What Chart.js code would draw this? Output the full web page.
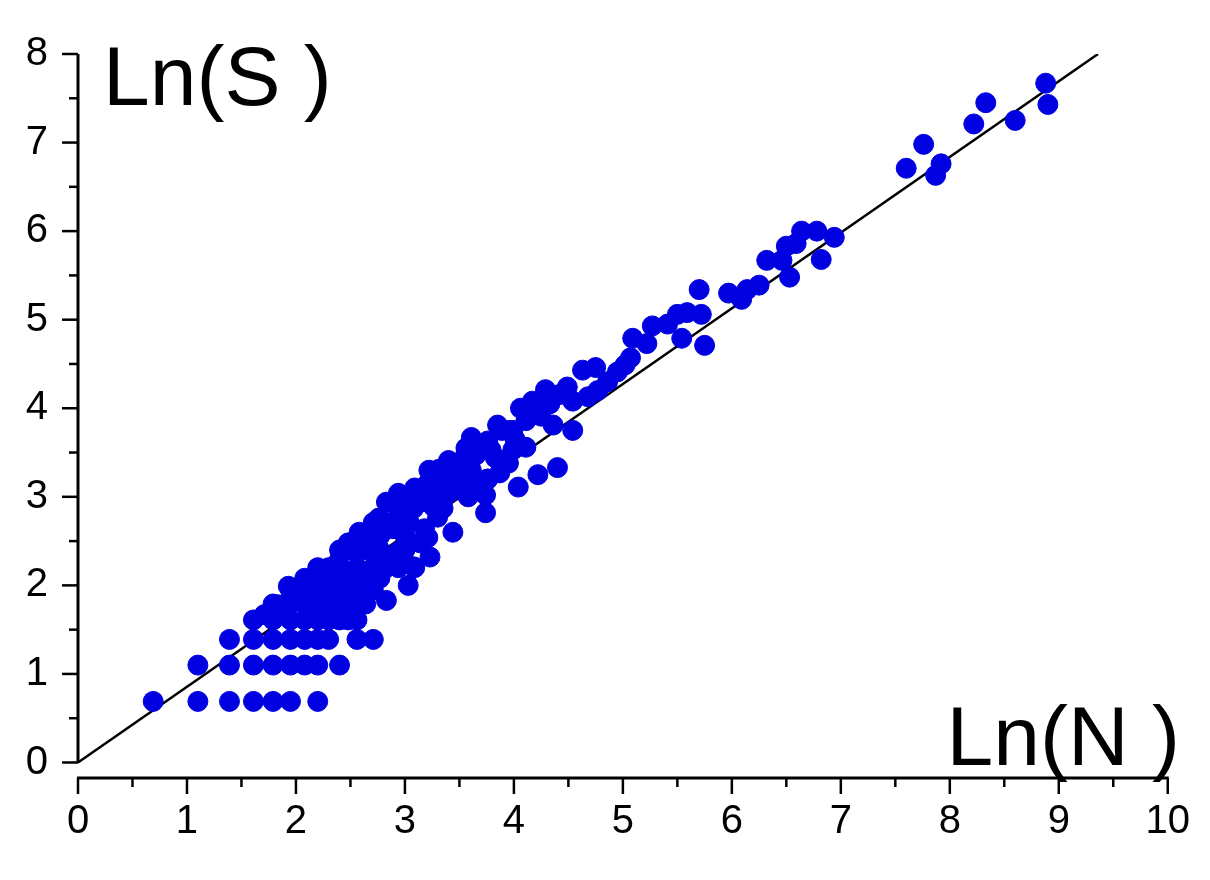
<!DOCTYPE html>
<html><head><meta charset="utf-8">
<script src="https://cdn.jsdelivr.net/npm/chart.js@4"></script>
<style>html,body{margin:0;padding:0;background:#fff}#wrap{width:1210px;height:880px}</style>
</head><body><div id="wrap"><canvas id="c" width="1210" height="880"></canvas></div>
<script>
const xTicks=[0,1,2,3,4,5,6,7,8,9,10];
const yTicks=[0,1,2,3,4,5,6,7,8];
const fitX=[0,9.36];
const fitY=[0,8];
const pointsX=[
0.69,1.10,1.39,1.61,1.79,1.95,2.20,
1.10,1.39,1.61,1.79,1.95,2.08,2.20,2.40,
1.39,1.61,1.79,1.95,2.08,2.20,2.30,2.56,2.71,
1.61,1.79,1.95,2.08,2.20,2.30,2.40,2.48,2.56,
1.79,1.95,2.08,2.20,2.30,2.40,2.48,2.64,
1.95,2.08,2.20,2.30,2.40,2.56,2.71,
2.08,2.20,2.30,2.40,2.48,2.64,2.77,
2.20,2.30,2.40,2.56,2.71,2.83,2.94,
2.40,2.48,2.56,2.64,2.77,2.89,3.00,3.09,
2.48,2.64,2.77,2.89,3.00,3.14,
2.71,2.83,2.94,3.04,3.18,3.30,
2.83,2.94,3.04,3.14,3.26,3.40,
2.94,3.09,3.22,3.33,3.47,3.58,
3.09,3.22,3.37,3.50,3.64,3.74,
3.22,3.33,3.47,3.61,3.76,3.87,
3.40,3.56,3.69,3.83,3.95,
3.61,3.76,3.89,4.01,4.11,
3.85,3.99,4.11,4.25,4.36,
4.06,4.20,4.33,4.44,
8.88,8.90,8.60,8.33,8.22,7.76,7.60,7.92,7.87,
6.94,6.82,6.78,6.64,6.59,6.50,6.53,6.46,6.32,6.25,6.14,6.09,5.97,
5.75,5.70,5.72,5.59,5.50,5.54,5.41,5.27,5.22,5.09,5.07,5.02,4.95,4.86,4.77,4.75,4.63,4.68,4.54,4.49,4.40,4.54,4.40,
4.26,4.29,4.17,4.13,4.22,3.95,3.99,4.04,3.76,3.79,3.65,3.56,3.74,3.49,3.40,3.35,3.31,3.44,3.21,3.08,2.99,3.23,3.08,3.03,2.83,2.94,2.76,2.58,2.39,2.21,2.03,1.84,1.71,1.93
];
const pointsY=[
0.69,0.69,0.69,0.69,0.69,0.69,0.69,
1.10,1.10,1.10,1.10,1.10,1.10,1.10,1.10,
1.39,1.39,1.39,1.39,1.39,1.39,1.39,1.39,1.39,
1.61,1.61,1.61,1.61,1.61,1.61,1.61,1.61,1.61,
1.79,1.79,1.79,1.79,1.79,1.79,1.79,1.79,
1.95,1.95,1.95,1.95,1.95,1.95,1.95,
2.08,2.08,2.08,2.08,2.08,2.08,2.08,
2.20,2.20,2.20,2.20,2.20,2.20,2.20,
2.40,2.40,2.40,2.40,2.40,2.30,2.40,2.20,
2.48,2.56,2.56,2.64,2.56,2.48,
2.71,2.71,2.77,2.71,2.64,2.77,
2.94,2.89,3.00,2.94,2.89,3.04,
3.04,2.99,3.02,2.94,3.09,3.00,
3.10,3.17,3.06,3.20,3.13,3.02,
3.30,3.27,3.38,3.30,3.20,3.27,
3.41,3.49,3.56,3.44,3.38,
3.67,3.63,3.75,3.65,3.56,
3.81,3.75,3.86,3.91,3.81,
4.00,3.94,4.05,4.16,
7.67,7.43,7.25,7.45,7.21,6.98,6.71,6.76,6.63,
5.93,5.68,6.00,6.00,5.86,5.83,5.48,5.67,5.67,5.39,5.34,5.23,5.30,
4.71,5.34,5.06,5.08,5.06,4.79,4.95,4.93,4.73,4.79,4.57,4.49,4.41,4.30,4.20,4.46,4.43,4.13,4.08,4.24,4.15,3.75,3.33,
4.02,4.21,4.08,3.97,3.25,3.75,3.53,3.11,3.20,3.53,3.47,3.55,2.82,3.31,3.11,2.87,3.31,2.60,2.54,2.87,2.98,2.32,2.21,2.00,1.83,2.38,2.76,2.60,2.27,2.05,1.88,1.78,1.67,1.99
];
const pts=pointsX.map((x,i)=>({x,y:pointsY[i]}));
const fit=fitX.map((x,i)=>({x,y:fitY[i]}));
const FONT='"Liberation Sans", Arial, sans-serif';
const deco={id:'deco',afterDraw(ch){
 const c=ch.ctx,xs=ch.scales.x,ys=ch.scales.y;
 const x0=xs.getPixelForValue(0),y0=ys.getPixelForValue(0),y8=ys.getPixelForValue(8);
 const xb=ch.chartArea.bottom,xr=xs.getPixelForValue(10);
 c.save();c.strokeStyle='#000';c.lineWidth=3;
 c.beginPath();c.moveTo(x0,y0);c.lineTo(x0,y8);c.stroke();
 c.beginPath();c.moveTo(x0-1,xb);c.lineTo(xr+1,xb);c.stroke();
 c.lineWidth=2.5;
 for(let v=0;v<=8;v+=0.5){const p=ys.getPixelForValue(v);c.beginPath();c.moveTo(x0,p);c.lineTo(x0-(v%1===0?16:9),p);c.stroke();}
 for(let v=0;v<=10;v+=0.5){const p=xs.getPixelForValue(v);c.beginPath();c.moveTo(p,xb);c.lineTo(p,xb+(v%1===0?16:9));c.stroke();}
 c.fillStyle='#000';c.font='84px '+FONT;c.textBaseline='alphabetic';
 c.textAlign='left';c.fillText('Ln(S )',103,105);
 c.textAlign='right';c.fillText('Ln(N )',1180,765);
 c.restore();}};
new Chart(document.getElementById('c'),{
 type:'scatter',
 data:{datasets:[
  {data:fit,type:'line',borderColor:'#000',borderWidth:2.5,pointRadius:0,fill:false,order:2},
  {data:pts,backgroundColor:'#0000e0',borderColor:'#0000e0',pointRadius:10,pointHoverRadius:10,order:1}
 ]},
 options:{responsive:false,animation:false,events:[],
  layout:{padding:{top:14,right:37,left:0,bottom:0}},
  plugins:{legend:{display:false},tooltip:{enabled:false}},
  scales:{
   x:{type:'linear',min:0,max:10,afterFit(s){s.height=102;},
      afterBuildTicks(s){s.ticks=xTicks.map(v=>({value:v}));},
      grid:{display:false,drawTicks:false},border:{display:false},
      ticks:{padding:20,color:'#000',font:{size:40,family:FONT},maxRotation:0,autoSkip:false}},
   y:{type:'linear',min:-0.175,max:8,afterFit(s){s.width=78;},
      afterBuildTicks(s){s.ticks=yTicks.map(v=>({value:v}));},
      grid:{display:false,drawTicks:false},border:{display:false},
      ticks:{padding:30,color:'#000',font:{size:40,family:FONT},autoSkip:false}}
  }}
 ,plugins:[deco]});
</script></body></html>
